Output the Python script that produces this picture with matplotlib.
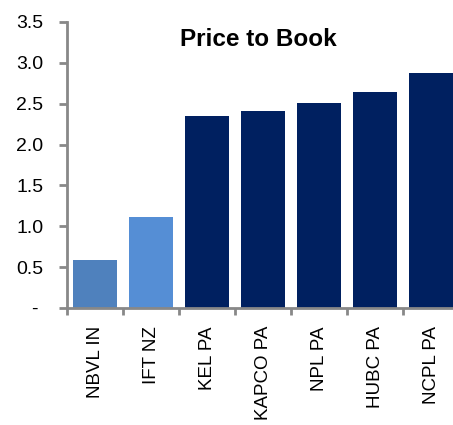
import matplotlib
matplotlib.use('Agg')
import matplotlib.pyplot as plt
import numpy as np

# chart data
tickers = ['NBVL IN', 'IFT NZ', 'KEL PA', 'KAPCO PA', 'NPL PA', 'HUBC PA', 'NCPL PA']
pb = [0.59, 1.11, 2.35, 2.41, 2.51, 2.64, 2.88]
colors = ['#4F81BD', '#558ED5', '#002060', '#002060', '#002060', '#002060', '#002060']
yticks = [0, 0.5, 1.0, 1.5, 2.0, 2.5, 3.0, 3.5]
ylabels = ['- ', '0.5', '1.0', '1.5', '2.0', '2.5', '3.0', '3.5']

plt.rcParams['font.family'] = ['Liberation Sans', 'DejaVu Sans']

fig = plt.figure(figsize=(4.53, 4.25), dpi=100)
ax = fig.add_axes([67 / 453, 117 / 425, 392 / 453, 286 / 425])

x = np.arange(len(tickers))
ax.bar(x, pb, width=0.79, color=colors)

ax.set_xlim(-0.5, len(tickers) - 0.5)
ax.set_ylim(0, 3.5)

ax.set_yticks(yticks)
ax.set_yticklabels(ylabels, fontsize=14)
ax.set_xticks(x)
ax.set_xticklabels(tickers, rotation=90, fontsize=13.5)
ax.tick_params(axis='x', length=0, pad=13)
ax.set_xticks(np.arange(len(tickers) + 1) - 0.5, minor=True)
ax.tick_params(axis='x', which='minor', length=5, width=2, color='#888888', direction='out')
ax.tick_params(axis='y', length=6, width=2, color='#888888', pad=11)

for s in ['top', 'right']:
    ax.spines[s].set_visible(False)
for s in ['left', 'bottom']:
    ax.spines[s].set_color('#888888')
    ax.spines[s].set_linewidth(2)

ax.text(0.487, 0.94, 'Price to Book', transform=ax.transAxes, ha='center', va='center',
        fontsize=17.5, fontweight='bold')

fig.savefig('out.png', dpi=100)
